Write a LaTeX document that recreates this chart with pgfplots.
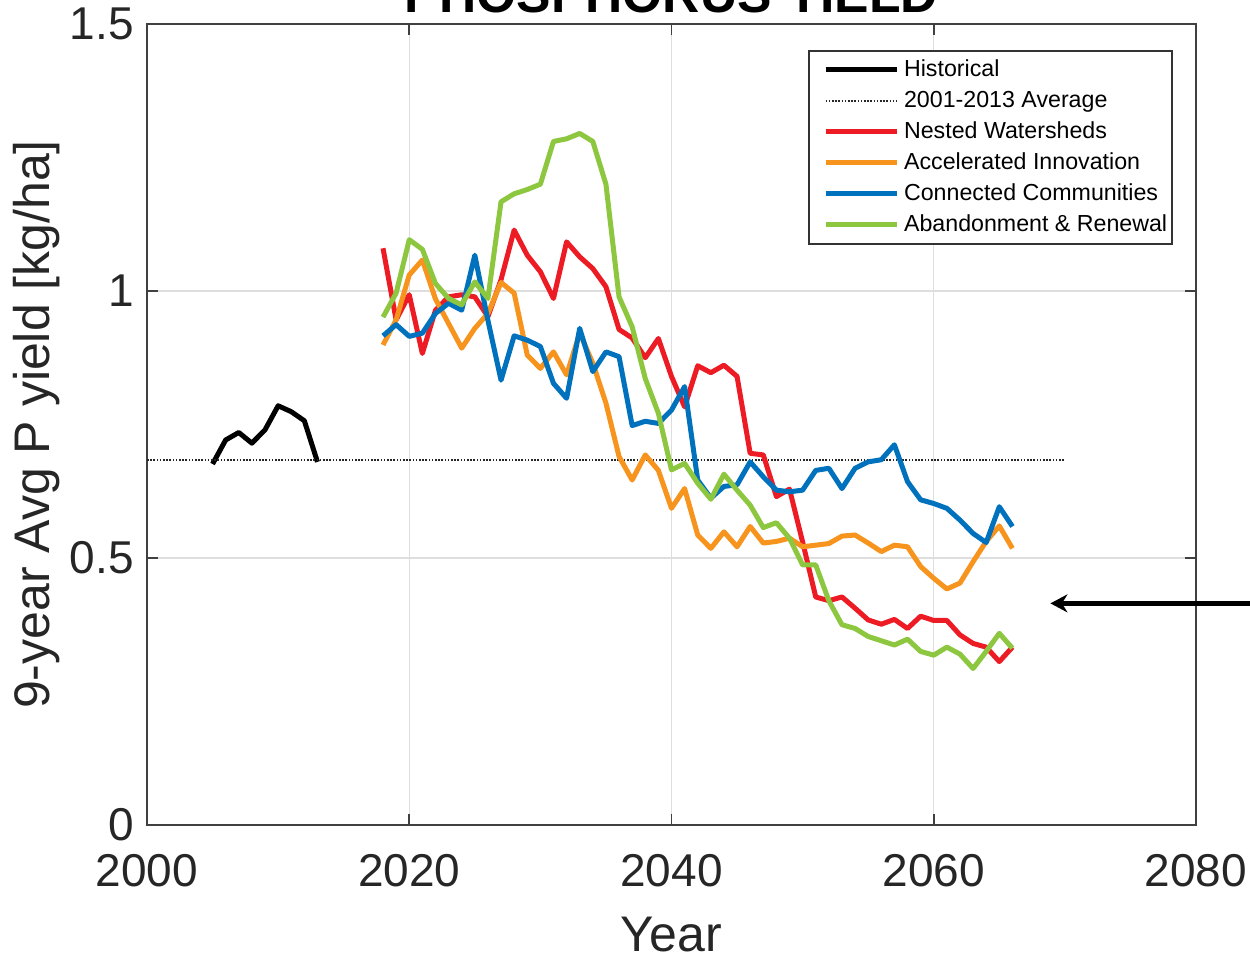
\documentclass[border=0pt]{standalone}
\usepackage{fontspec}
\setmainfont{Liberation Sans}
\usepackage{pgfplots}
\pgfplotsset{compat=1.18}
\usetikzlibrary{arrows.meta}
\definecolor{cRed}{RGB}{237,28,36}
\definecolor{cOrange}{RGB}{247,148,29}
\definecolor{cBlue}{RGB}{0,114,189}
\definecolor{cGreen}{RGB}{141,198,63}
\begin{document}
\begin{tikzpicture}
\useasboundingbox (-73.5pt,-66pt) rectangle (551.5pt,412.5pt);
\clip (-73.5pt,-66pt) rectangle (551.5pt,412.5pt);
\begin{axis}[
  at={(0pt,0pt)}, anchor=south west,
  scale only axis, width=524.5pt, height=400.5pt,
  xmin=2000, xmax=2080, ymin=0, ymax=1.5,
  xtick={2000,2020,2040,2060,2080}, ytick={0,0.5,1,1.5},
  clip=false,
  grid=major, major grid style={draw=black!13, line width=0.6pt},
  axis line style={draw=black!75, line width=0.9pt},
  tick style={draw=black!75, line width=0.9pt},
  major tick length=5.5pt, tick align=inside,
  ticklabel style={font=\fontsize{23}{27}\selectfont, text=black!85},
  /pgf/number format/assume math mode=true,
  /pgf/number format/1000 sep={},
  xticklabel style={yshift=-11pt},
  yticklabel style={xshift=-3pt},
  xlabel={Year}, ylabel={9-year Avg P yield [kg/ha]},
  label style={font=\fontsize{25}{30}\selectfont, text=black!85},
  xlabel style={at={(axis description cs:0.5,-0.1373)}, anchor=center},
  ylabel style={at={(axis description cs:-0.1049,0.5)}, anchor=center},
  legend style={at={(axis description cs:1,1)}, anchor=north east,
    xshift=-11.5pt, yshift=-13pt, draw=black!80, line width=0.8pt, fill=white,
    font=\fontsize{11.6}{13}\selectfont, inner xsep=1pt, inner ysep=2pt,
    row sep=0.5pt,
    nodes={inner xsep=1.5pt, inner ysep=1.5pt, text height=9.5pt, text depth=2.5pt},
    /tikz/every odd column/.style={column sep=1pt}},
  legend cell align=left,
  legend image code/.code={\path (0pt,0pt); \draw[#1] (6pt,0pt) -- (41.5pt,0pt);},
  every axis plot/.append style={line join=round},
]
\addplot[black, line width=2.5pt] coordinates {
(2005,0.676) (2006,0.721) (2007,0.735) (2008,0.715) (2009,0.740)
(2010,0.785) (2011,0.774) (2012,0.757) (2013,0.680)};
\addlegendentry{Historical}
\addplot[black!85, line width=0.8pt, dash pattern=on 0.8pt off 0.8pt] coordinates {(2000,0.684) (2070,0.684)};
\addlegendentry{2001-2013 Average}
\addplot[cRed, line width=2.5pt] coordinates {
(2018,1.080) (2019,0.946) (2020,0.993) (2021,0.883) (2022,0.964) (2023,0.989)
(2024,0.993) (2025,0.989) (2026,0.952) (2027,1.021) (2028,1.114) (2029,1.067)
(2030,1.036) (2031,0.986) (2032,1.092) (2033,1.064) (2034,1.042) (2035,1.008)
(2036,0.928) (2037,0.912) (2038,0.875) (2039,0.911) (2040,0.840) (2041,0.783)
(2042,0.860) (2043,0.847) (2044,0.861) (2045,0.840) (2046,0.696) (2047,0.693)
(2048,0.615) (2049,0.629) (2050,0.530) (2051,0.427) (2052,0.420) (2053,0.427)
(2054,0.406) (2055,0.384) (2056,0.376) (2057,0.385) (2058,0.368) (2059,0.391)
(2060,0.383) (2061,0.383) (2062,0.356) (2063,0.340) (2064,0.333) (2065,0.306)
(2066,0.333)};
\addlegendentry{Nested Watersheds}
\addplot[cOrange, line width=2.5pt] coordinates {
(2018,0.899) (2019,0.946) (2020,1.030) (2021,1.058) (2022,0.985) (2023,0.939)
(2024,0.893) (2025,0.930) (2026,0.958) (2027,1.016) (2028,0.996) (2029,0.880)
(2030,0.855) (2031,0.886) (2032,0.843) (2033,0.921) (2034,0.865) (2035,0.790)
(2036,0.690) (2037,0.646) (2038,0.693) (2039,0.664) (2040,0.593) (2041,0.630)
(2042,0.543) (2043,0.518) (2044,0.549) (2045,0.521) (2046,0.559) (2047,0.528)
(2048,0.531) (2049,0.537) (2050,0.521) (2051,0.524) (2052,0.527) (2053,0.541)
(2054,0.543) (2055,0.528) (2056,0.512) (2057,0.524) (2058,0.521) (2059,0.484)
(2060,0.462) (2061,0.442) (2062,0.453) (2063,0.493) (2064,0.531) (2065,0.560)
(2066,0.518)};
\addlegendentry{Accelerated Innovation}
\addplot[cBlue, line width=2.5pt] coordinates {
(2018,0.916) (2019,0.937) (2020,0.915) (2021,0.921) (2022,0.958) (2023,0.977)
(2024,0.964) (2025,1.067) (2026,0.945) (2027,0.833) (2028,0.916) (2029,0.908)
(2030,0.896) (2031,0.827) (2032,0.799) (2033,0.930) (2034,0.849) (2035,0.886)
(2036,0.877) (2037,0.748) (2038,0.756) (2039,0.752) (2040,0.777) (2041,0.821)
(2042,0.646) (2043,0.612) (2044,0.634) (2045,0.637) (2046,0.680) (2047,0.652)
(2048,0.627) (2049,0.624) (2050,0.627) (2051,0.664) (2052,0.668) (2053,0.630)
(2054,0.668) (2055,0.680) (2056,0.684) (2057,0.712) (2058,0.643) (2059,0.609)
(2060,0.602) (2061,0.593) (2062,0.571) (2063,0.546) (2064,0.529) (2065,0.596)
(2066,0.559)};
\addlegendentry{Connected Communities}
\addplot[cGreen, line width=2.5pt] coordinates {
(2018,0.951) (2019,0.996) (2020,1.096) (2021,1.078) (2022,1.014) (2023,0.986)
(2024,0.974) (2025,1.017) (2026,0.986) (2027,1.167) (2028,1.182) (2029,1.190)
(2030,1.200) (2031,1.280) (2032,1.285) (2033,1.295) (2034,1.280) (2035,1.200)
(2036,0.989) (2037,0.933) (2038,0.836) (2039,0.771) (2040,0.665) (2041,0.677)
(2042,0.640) (2043,0.610) (2044,0.657) (2045,0.627) (2046,0.599) (2047,0.557)
(2048,0.566) (2049,0.537) (2050,0.487) (2051,0.487) (2052,0.420) (2053,0.375)
(2054,0.368) (2055,0.353) (2056,0.345) (2057,0.337) (2058,0.348) (2059,0.325)
(2060,0.318) (2061,0.333) (2062,0.320) (2063,0.293) (2064,0.325) (2065,0.359)
(2066,0.331)};
\addlegendentry{Abandonment \& Renewal}
\draw[black, line width=2.5pt, -{Stealth[length=8.5pt, width=9pt]}]
  (axis cs:2086,0.415) -- (axis cs:2068.9,0.415);
\node[font=\fontsize{25.8}{30}\selectfont\bfseries, anchor=base]
  at ([yshift=5.75pt]axis description cs:0.5,1) {PHOSPHORUS YIELD};
\end{axis}
\end{tikzpicture}
\end{document}
